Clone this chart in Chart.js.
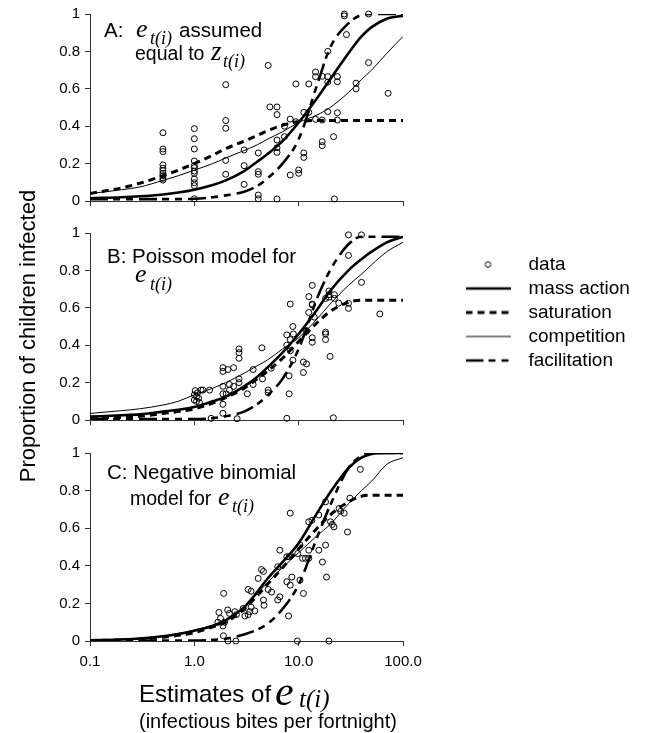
<!DOCTYPE html>
<html>
<head>
<meta charset="utf-8">
<script src="https://cdn.jsdelivr.net/npm/chart.js@4.4.1/dist/chart.umd.min.js"></script>
<style>
  html, body { margin: 0; padding: 0; background: #fff; }
  #page { position: relative; width: 645px; height: 733px; overflow: hidden; }
  canvas { position: absolute; }
  #panelA { left: 0; top: 0; }
  #panelB { left: 0; top: 219px; }
  #panelC { left: 0; top: 439px; }
  #legendBox { left: 452px; top: 250px; }
  #labels { position: absolute; left: 0; top: 0; pointer-events: none; }
  #labels text { font-family: "Liberation Sans", Arial, sans-serif; fill: #000; }
  #labels text.m { font-family: "Liberation Serif", "Times New Roman", serif; font-style: italic; }
</style>
</head>
<body>
<div id="page">
  <canvas id="panelA" width="440" height="215"></canvas>
  <canvas id="panelB" width="440" height="215"></canvas>
  <canvas id="panelC" width="440" height="240"></canvas>
  <canvas id="legendBox" width="193" height="140"></canvas>
  <svg id="labels" width="645" height="733">
    <text x="104" y="37" font-size="20.5">A:</text>
    <text class="m" x="136" y="37" font-size="26">e</text>
    <text class="m" x="150" y="44" font-size="18">t(i)</text>
    <text x="179" y="37" font-size="20.5">assumed</text>
    <text x="135" y="60" font-size="19.5">equal to</text>
    <text class="m" x="211" y="60" font-size="27">z</text>
    <text class="m" x="223" y="67" font-size="18">t(i)</text>

    <text x="107" y="263" font-size="20.5">B: Poisson model for</text>
    <text class="m" x="135" y="282" font-size="26">e</text>
    <text class="m" x="150" y="290" font-size="18">t(i)</text>

    <text x="107" y="479" font-size="20.5">C: Negative binomial</text>
    <text x="130" y="505" font-size="19.5">model for</text>
    <text class="m" x="218" y="505" font-size="26">e</text>
    <text class="m" x="232" y="512" font-size="18">t(i)</text>

    <text transform="translate(35,336) rotate(-90)" text-anchor="middle" font-size="22">Proportion of children infected</text>

    <text x="139" y="702" font-size="24">Estimates of</text>
    <text class="m" x="275" y="705" font-size="42">e</text>
    <text class="m" x="299" y="707" font-size="25">t(i)</text>
    <text x="139" y="728" font-size="20">(infectious bites per fortnight)</text>
  </svg>
</div>
<script>
// axis ticks
const xTickValues = [0.1, 1, 10, 100];
const xTickLabels = ["0.1", "1.0", "10.0", "100.0"];
const yTickValues = [0, 0.2, 0.4, 0.6, 0.8, 1];
const yTickLabels = ["0", "0.2", "0.4", "0.6", "0.8", "1"];

// model curves are read at these x values
const curveX = [0.1, 0.2, 0.3, 0.5, 0.7, 1, 1.5, 2, 3, 4, 5, 7, 10, 15, 20, 30, 40, 50, 70, 100];
const curveNames = ["mass action", "saturation", "competition", "facilitation"];

// A: e assumed equal to z
const aDataX = [0.5, 0.5, 0.5, 0.5, 0.5, 0.5, 0.5, 0.5, 0.5, 0.5,
  1, 1, 1, 1, 1, 1, 1, 1, 1, 1, 1, 1,
  2, 2, 2, 2, 2, 3, 3, 3, 4.1, 4.1, 4.1, 4.1, 4.1, 5.1, 5.3,
  6.2, 6.2, 6.2, 6.2, 6.2, 6.2, 7.3, 7.3, 8.3, 8.3, 9.4, 9.4, 10, 10,
  11.2, 11.2, 11.2, 12.5, 12.5, 14.5, 14.5, 14.5, 16.8, 16.8, 16.8, 16.8,
  19, 19, 19, 19, 21.6, 22, 23.5, 23.5, 23.5, 23.5,
  27.4, 27.4, 28.7, 46.8, 46.8, 35.5, 35.5, 72];
const aDataY = [0.365, 0.278, 0.264, 0.193, 0.175, 0.162, 0.148, 0.135, 0.121, 0.112,
  0.387, 0.333, 0.278, 0.214, 0.189, 0.178, 0.16, 0.148, 0.118, 0.098, 0.082, 0.012,
  0.622, 0.43, 0.389, 0.217, 0.143, 0.273, 0.189, 0.089, 0.257, 0.157, 0.143, 0.032, 0.012, 0.725, 0.503,
  0.503, 0.462, 0.326, 0.285, 0.26, 0.011, 0.344, 0.4, 0.438, 0.139, 0.626, 0.424, 0.166, 0.148,
  0.474, 0.257, 0.233, 0.626, 0.474, 0.69, 0.665, 0.437, 0.667, 0.433, 0.317, 0.296,
  0.8, 0.665, 0.636, 0.478, 0.344, 0.011, 0.665, 0.638, 0.472, 0.433,
  1.0, 0.99, 0.89, 1.0, 0.74, 0.63, 0.6, 0.576];
const aMass = [0.015, 0.02, 0.025, 0.035, 0.045, 0.06, 0.085, 0.11, 0.16, 0.21, 0.25, 0.32, 0.42, 0.55, 0.65, 0.79, 0.88, 0.93, 0.975, 0.99];
const aSat = [0.04, 0.07, 0.095, 0.135, 0.165, 0.2, 0.245, 0.28, 0.32, 0.35, 0.375, 0.405, 0.425, 0.43, 0.43, 0.43, 0.43, 0.43, 0.43, 0.43];
const aComp = [0.04, 0.06, 0.075, 0.11, 0.135, 0.165, 0.2, 0.23, 0.27, 0.3, 0.33, 0.37, 0.42, 0.46, 0.5, 0.58, 0.65, 0.7, 0.79, 0.88];
const aFac = [0.01, 0.01, 0.01, 0.01, 0.01, 0.012, 0.02, 0.03, 0.05, 0.08, 0.12, 0.2, 0.33, 0.62, 0.82, 0.95, 0.995, 1, 1, 1];

// B: Poisson model
const bDataX = [1.0, 1.02, 1.07, 1.1, 1.12, 1.05, 1.16, 1.21, 1.4, 1.05, 1.0, 1.45,
  1.88, 1.88, 1.88, 1.88, 1.88, 1.88, 2.02, 2.1, 2.17, 2.17, 2.38, 2.38, 2.57,
  2.68, 2.68, 2.68, 2.68, 2.68, 3.22, 3.66, 3.66, 4.44, 4.5, 5.1, 5.1, 5.45,
  7.7, 7.7, 7.7, 8.1, 8.1, 8.3, 8.3, 8.3, 8.8, 8.8, 8.9, 11.1, 11.1, 11.9, 11.9,
  12.5, 12.5, 13.5, 13.5, 13.5, 13.5, 13.5, 14.1, 18.1, 18.1, 18.1, 18.1,
  19.5, 19.5, 19.5, 20, 21.5, 22, 22, 24.2, 30, 30, 30, 30, 40, 40, 60];
const bDataY = [0.134, 0.157, 0.145, 0.116, 0.093, 0.1, 0.16, 0.16, 0.16, 0.125, 0.107, 0.009,
  0.28, 0.26, 0.18, 0.14, 0.084, 0.036, 0.14, 0.27, 0.19, 0.16, 0.28, 0.18, 0.007,
  0.38, 0.36, 0.33, 0.22, 0.2, 0.14, 0.27, 0.19, 0.386, 0.22, 0.16, 0.146, 0.277,
  0.455, 0.4, 0.009, 0.14, 0.236, 0.62, 0.43, 0.37, 0.5, 0.32, 0.46, 0.31, 0.254, 0.3, 0.477,
  0.66, 0.575, 0.72, 0.62, 0.616, 0.44, 0.416, 0.55, 0.65, 0.47, 0.46, 0.43,
  0.69, 0.67, 0.657, 0.34, 0.012, 0.67, 0.65, 0.625, 0.99, 0.88, 0.624, 0.597, 0.99, 0.736, 0.567];
const bMass = [0.018, 0.025, 0.03, 0.045, 0.055, 0.07, 0.1, 0.125, 0.18, 0.23, 0.28, 0.36, 0.46, 0.59, 0.69, 0.8, 0.86, 0.9, 0.95, 0.98];
const bSat = [0.01, 0.015, 0.02, 0.035, 0.045, 0.06, 0.09, 0.12, 0.17, 0.22, 0.26, 0.33, 0.42, 0.52, 0.58, 0.63, 0.64, 0.64, 0.64, 0.64];
const bComp = [0.035, 0.05, 0.06, 0.08, 0.1, 0.135, 0.17, 0.2, 0.25, 0.29, 0.32, 0.38, 0.44, 0.54, 0.62, 0.72, 0.78, 0.83, 0.9, 0.95];
const bFac = [0.005, 0.005, 0.005, 0.005, 0.005, 0.005, 0.01, 0.02, 0.045, 0.085, 0.13, 0.22, 0.38, 0.65, 0.8, 0.94, 0.98, 0.98, 0.98, 0.98];

// C: negative binomial model
const cDataX = [1.91, 1.72, 1.78, 1.68, 1.95, 1.88,
  2.09, 2.17, 2.44, 2.53, 2.94, 3.05, 3.28, 3.4, 3.5, 3.8,
  3.28, 3.5, 4.09, 4.4, 4.6, 4.6, 4.65, 5.1, 5.5, 6.3, 6.6, 6.3, 6.6,
  7.7, 8.1, 8.6, 7.7, 8.3, 8.0, 8.3, 9.8, 10.3, 10.3, 11.1, 10.9, 11.6, 12.5, 12.5,
  12.5, 13.4, 15.6, 15.6, 16.9, 18.1, 18.5, 18.1, 20.2, 21, 21.8,
  24.4, 25.3, 27.3, 29.4, 31, 39, 39, 31, 2.1, 2.5, 9.7, 19.5, 1.9];
const cDataY = [0.253, 0.152, 0.12, 0.1, 0.1, 0.08,
  0.165, 0.147, 0.156, 0.14, 0.173, 0.133, 0.14, 0.156, 0.18, 0.16,
  0.274, 0.265, 0.333, 0.38, 0.37, 0.218, 0.19, 0.274, 0.26, 0.395, 0.483, 0.218, 0.235,
  0.448, 0.448, 0.34, 0.315, 0.297, 0.133, 0.68, 0.465, 0.51, 0.324, 0.253, 0.44, 0.44, 0.44, 0.483,
  0.634, 0.642, 0.67, 0.483, 0.42, 0.51, 0.34, 0.74, 0.634, 0.62, 0.607,
  0.705, 0.69, 0.68, 0.58, 1.03, 1.03, 0.913, 0.76, 0, 0, 0, 0, 0.028];
const cMass = [0.003, 0.008, 0.013, 0.025, 0.037, 0.055, 0.08, 0.11, 0.18, 0.26, 0.33, 0.42, 0.52, 0.68, 0.79, 0.92, 0.975, 0.995, 1, 1];
const cSat = [0.003, 0.006, 0.01, 0.02, 0.03, 0.045, 0.075, 0.1, 0.17, 0.24, 0.3, 0.39, 0.49, 0.6, 0.67, 0.74, 0.77, 0.775, 0.775, 0.775];
const cComp = [0.005, 0.01, 0.015, 0.027, 0.04, 0.058, 0.085, 0.115, 0.18, 0.25, 0.31, 0.39, 0.47, 0.56, 0.62, 0.73, 0.8, 0.85, 0.94, 0.975];
const cFac = [0.003, 0.003, 0.003, 0.003, 0.003, 0.003, 0.006, 0.012, 0.035, 0.06, 0.09, 0.17, 0.3, 0.55, 0.72, 0.92, 0.985, 1, 1, 1];

// line looks, shared by the panels and the legend
const lineStyles = {
  "mass action": { borderWidth: 2.6, borderDash: [] },
  "saturation": { borderWidth: 3, borderDash: [7, 5] },
  "competition": { borderWidth: 1, borderDash: [] },
  "facilitation": { borderWidth: 2.6, borderDash: [18, 5, 7, 6, 7, 6] },
};
const pointLook = { pointRadius: 3, pointBorderWidth: 1, pointBorderColor: "#000", pointBackgroundColor: "rgba(0,0,0,0)" };

Chart.defaults.font.family = "'Liberation Sans', Arial, sans-serif";
Chart.defaults.color = "#000";

function makePanel(id, xs, ys, curves, showXLabels, xAxisHeight) {
  const datasets = [{
    label: "data",
    data: xs.map((x, i) => ({ x, y: ys[i] })),
    showLine: false,
    clip: false,
    ...pointLook,
  }];
  curveNames.forEach((name, k) => {
    datasets.push({
      label: name,
      data: curveX.map((x, j) => ({ x, y: curves[k][j] })),
      showLine: true,
      pointRadius: 0,
      borderColor: "#000",
      borderWidth: lineStyles[name].borderWidth,
      borderDash: lineStyles[name].borderDash,
      cubicInterpolationMode: "monotone",
      fill: false,
    });
  });

  return new Chart(document.getElementById(id), {
    type: "scatter",
    data: { datasets },
    options: {
      responsive: false,
      animation: false,
      events: [],
      layout: { padding: { top: 14, right: 37, left: 0, bottom: 0 } },
      plugins: { legend: { display: false }, tooltip: { enabled: false } },
      scales: {
        x: {
          type: "logarithmic",
          min: 0.1,
          max: 100,
          afterBuildTicks: s => { s.ticks = xTickValues.map(v => ({ value: v })); },
          afterFit: s => { s.height = xAxisHeight; },
          ticks: {
            display: showXLabels,
            autoSkip: false,
            maxRotation: 0,
            padding: 7,
            font: { size: 15 },
            callback: (v, i) => xTickLabels[i],
          },
          grid: { drawOnChartArea: false, tickLength: 5, color: "#333" },
          border: { color: "#333", width: 1 },
        },
        y: {
          min: 0,
          max: 1,
          afterBuildTicks: s => { s.ticks = yTickValues.map(v => ({ value: v })); },
          afterFit: s => { s.width = 90; },
          ticks: { padding: 5, font: { size: 15 }, callback: (v, i) => yTickLabels[i] },
          grid: { drawOnChartArea: false, tickLength: 5, color: "#333" },
          border: { color: "#333", width: 1 },
        },
      },
    },
  });
}

makePanel("panelA", aDataX, aDataY, [aMass, aSat, aComp, aFac], false, 14);
makePanel("panelB", bDataX, bDataY, [bMass, bSat, bComp, bFac], false, 14);
makePanel("panelC", cDataX, cDataY, [cMass, cSat, cComp, cFac], true, 38);

// small sample glyph for a legend row, from the dataset's own look
function legendIcon(ds) {
  const c = document.createElement("canvas");
  const g = c.getContext("2d");
  if (ds.label === "data") {
    c.width = 9; c.height = 9;
    g.lineWidth = 1;
    g.strokeStyle = "#000";
    g.beginPath();
    g.arc(4.5, 4.5, 2.8, 0, Math.PI * 2);
    g.stroke();
  } else {
    c.width = 45; c.height = 8;
    g.lineWidth = ds.borderWidth;
    g.strokeStyle = "#000";
    g.setLineDash(ds.borderDash);
    g.beginPath();
    g.moveTo(0, 4);
    g.lineTo(45, 4);
    g.stroke();
  }
  return c;
}

const legendSets = [{ label: "data", data: [], ...pointLook }].concat(
  curveNames.map(name => ({ label: name, data: [], borderColor: "#000", ...lineStyles[name] }))
);

new Chart(document.getElementById("legendBox"), {
  type: "scatter",
  data: { datasets: legendSets },
  options: {
    responsive: false,
    animation: false,
    events: [],
    layout: { padding: 0 },
    scales: { x: { display: false }, y: { display: false } },
    plugins: {
      tooltip: { enabled: false },
      legend: {
        position: "left",
        align: "start",
        maxWidth: 193,
        labels: {
          usePointStyle: true,
          pointStyleWidth: 62,
          boxHeight: 19,
          padding: 5,
          font: { size: 19 },
          color: "#000",
          generateLabels: chart => chart.data.datasets.map((ds, i) => ({
            text: ds.label,
            pointStyle: legendIcon(ds),
            lineWidth: 0,
            fillStyle: "rgba(0,0,0,0)",
            strokeStyle: "rgba(0,0,0,0)",
            fontColor: "#000",
            hidden: false,
            datasetIndex: i,
          })),
        },
      },
    },
  },
});
</script>
</body>
</html>
